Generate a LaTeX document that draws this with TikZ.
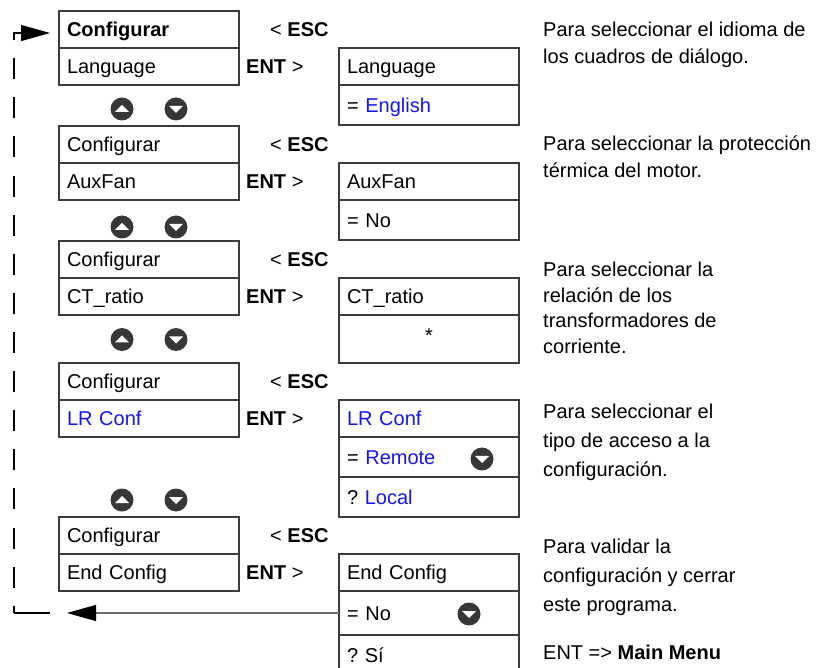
\documentclass[tikz,border=0pt]{standalone}
\usepackage{fontspec}
\setmainfont{Liberation Sans}
\usetikzlibrary{arrows.meta}
\definecolor{boxline}{RGB}{60,60,60}
\definecolor{keygray}{RGB}{55,55,55}
\definecolor{wiregray}{RGB}{110,110,110}
\definecolor{valblue}{RGB}{20,20,245}
\newcommand{\val}[1]{\textcolor{valblue}{#1}}
\frenchspacing
\begin{document}
\begin{tikzpicture}[
        x=1pt, y=-1pt,
        every node/.style={font=\fontsize{20}{24}\selectfont},
        row/.style={draw=boxline, line width=1.1pt, anchor=north west, minimum width=180pt,
            minimum height=37pt, text width=164pt, inner xsep=8pt, inner ysep=0pt, outer sep=0pt,
            align=left, text height=15pt, text depth=0.6pt},
        keylabel/.style={anchor=west, inner sep=0pt},
        desc/.style={anchor=base west, inner sep=0pt, align=left},
        upkey/.style={circle, fill=keygray, minimum size=23pt, inner sep=0pt,
            path picture={\fill[white] ([shift={(-7pt,-3pt)}]path picture bounding box.center)
                -- ([shift={(7pt,-3pt)}]path picture bounding box.center)
                -- ([shift={(0pt,4pt)}]path picture bounding box.center) -- cycle;}},
        downkey/.style={circle, fill=keygray, minimum size=23pt, inner sep=0pt,
            path picture={\fill[white] ([shift={(-7pt,3pt)}]path picture bounding box.center)
                -- ([shift={(7pt,3pt)}]path picture bounding box.center)
                -- ([shift={(0pt,-4pt)}]path picture bounding box.center) -- cycle;}},
        loopline/.style={draw=black, line width=1.1pt},
        wire/.style={draw=wiregray, line width=1.1pt},
        >={Triangle[length=29pt, width=16pt, color=black]}
    ]
        \useasboundingbox (0,0) rectangle (820,668);
        \clip (0,0) rectangle (820,668);
        % Language
        \node[row] (conf1) at (59,11) {\textbf{Configurar}};
        \node[row] (lang) at (59,48) {Language};
        \node[keylabel] (esc1) at (270,30) {< \textbf{ESC}};
        \node[keylabel] (ent1) at (246,67) {\textbf{ENT} >};
        \node[row] (langhead) at (339,48) {Language};
        \node[row, minimum height=40pt] (langval) at (339,85) {= \val{English}};
        \node[upkey] (up1) at (122,109) {};
        \node[downkey] (down1) at (176,109) {};
        \node[desc, font=\fontsize{20}{26.5}\selectfont] (desc1) at (543,63.5)
            {Para seleccionar el idioma de\\los cuadros de diálogo.};
        % AuxFan
        \node[row] (conf2) at (59,126) {Configurar};
        \node[row] (aux) at (59,163) {AuxFan};
        \node[keylabel] (esc2) at (270,145) {< \textbf{ESC}};
        \node[keylabel] (ent2) at (246,182) {\textbf{ENT} >};
        \node[row] (auxhead) at (339,163) {AuxFan};
        \node[row, minimum height=40pt] (auxval) at (339,200) {= No};
        \node[upkey] (up2) at (122,227) {};
        \node[downkey] (down2) at (176,227) {};
        \node[desc, font=\fontsize{20}{26.5}\selectfont] (desc2) at (543,177.5)
            {Para seleccionar la protección\\térmica del motor.};
        % CT_ratio
        \node[row] (conf3) at (59,241) {Configurar};
        \node[row] (ct) at (59,278) {CT\_ratio};
        \node[keylabel] (esc3) at (270,260) {< \textbf{ESC}};
        \node[keylabel] (ent3) at (246,297) {\textbf{ENT} >};
        \node[row] (cthead) at (339,278) {CT\_ratio};
        \node[row, minimum height=48pt, align=center, text height=8pt] (ctval) at (339,315) {*};
        \node[upkey] (up3) at (122,339.5) {};
        \node[downkey] (down3) at (176,339.5) {};
        \node[desc, font=\fontsize{20}{25.5}\selectfont] (desc3) at (543,353.5)
            {Para seleccionar la\\relación de los\\transformadores de\\corriente.};
        % LR Conf
        \node[row] (conf4) at (59,363) {Configurar};
        \node[row] (lrconf) at (59,400) {\val{LR Conf}};
        \node[keylabel] (esc4) at (270,382) {< \textbf{ESC}};
        \node[keylabel] (ent4) at (246,419) {\textbf{ENT} >};
        \node[row] (lrhead) at (339,400) {\val{LR Conf}};
        \node[row, minimum height=40pt] (lrval) at (339,437) {= \val{Remote}};
        \node[row, minimum height=40pt] (lralt) at (339,477) {? \val{Local}};
        \node[downkey] (lrdown) at (482,459) {};
        \node[upkey] (up4) at (122,500) {};
        \node[downkey] (down4) at (176,500) {};
        \node[desc, font=\fontsize{20}{29}\selectfont] (desc4) at (543,476)
            {Para seleccionar el\\tipo de acceso a la\\configuración.};
        % End Config
        \node[row] (conf5) at (59,517) {Configurar};
        \node[row] (endcfg) at (59,554) {End Config};
        \node[keylabel] (esc5) at (270,536) {< \textbf{ESC}};
        \node[keylabel] (ent5) at (246,573) {\textbf{ENT} >};
        \node[row] (endhead) at (339,554) {End Config};
        \node[row, minimum height=44pt] (endno) at (339,591) {= No};
        \node[row, minimum height=40pt] (endyes) at (339,635) {? Sí};
        \node[downkey] (nodown) at (469,614) {};
        \node[desc, font=\fontsize{20}{29}\selectfont] (desc5) at (543,611)
            {Para validar la\\configuración y cerrar\\este programa.};
        \node[desc] (mainmenu) at (543,659) {ENT => \textbf{Main Menu}};
        % return loop
        \coordinate (backtip) at (67,613);
        \coordinate (loopstart) at (50,613);
        \coordinate (loopcorner) at (14,613);
        \coordinate (looptop) at (14,33);
        \coordinate (looptip) at (50,33);
        \draw[wire, ->] (endno.west) -- (backtip);
        \draw[loopline] (loopstart) -- (loopcorner);
        \draw[loopline, ->, dash pattern=on 21pt off 18.1pt, dash phase=13.7pt]
            (loopcorner) -- (looptop) -- (looptip);
    \end{tikzpicture}
\end{document}
